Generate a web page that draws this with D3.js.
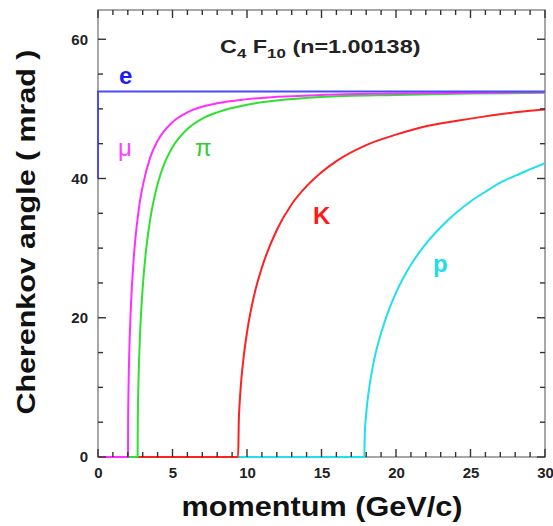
<!DOCTYPE html>
<html>
<head>
<meta charset="utf-8">
<script src="https://cdn.jsdelivr.net/npm/d3@7"></script>
<style>
  body { margin: 0; background: #fff; }
  svg { font-family: 'Liberation Sans', Arial, sans-serif; }
</style>
</head>
<body>
<div id="chart"></div>
<script>
// momentum (GeV/c) and Cherenkov angle (mrad)
const eP = [0, 0, 30]
const eTheta = [40, 52.5, 52.5]

const muP = [0, 2.013, 2.02, 2.05, 2.1, 2.2, 2.4, 2.6, 2.8, 3, 3.5, 4, 5, 6, 8, 10, 15, 20, 30]
const muTheta = [0, 0, 4.5, 10.0, 15.0, 21.2, 28.6, 33.2, 36.5, 38.9, 43.0, 45.4, 48.1, 49.5, 50.8, 51.4, 52.0, 52.2, 52.4]

const piP = [2.013, 2.659, 2.67, 2.7, 2.75, 2.8, 2.9, 3.0, 3.2, 3.5, 4, 4.5, 5, 6, 7, 8, 10, 12, 15, 20, 25, 30]
const piTheta = [0, 0, 4.8, 9.2, 13.4, 16.5, 21.0, 24.3, 29.2, 34.1, 39.2, 42.4, 44.5, 47.1, 48.6, 49.5, 50.6, 51.2, 51.7, 52.0, 52.2, 52.3]

const kP = [2.659, 9.404, 9.45, 9.5, 9.6, 9.8, 10, 10.5, 11, 12, 13, 14, 15, 16, 18, 20, 22, 25, 28, 30]
const kTheta = [0, 0, 5.2, 7.5, 10.6, 14.8, 17.9, 23.4, 27.2, 32.6, 36.3, 38.9, 40.9, 42.5, 44.8, 46.3, 47.5, 48.6, 49.5, 49.9]

const protonP = [9.404, 17.873, 17.9, 18, 18.2, 18.5, 19, 19.5, 20, 21, 22, 23, 24, 25, 26, 27, 28, 29, 30]
const protonTheta = [0, 0, 2.9, 6.2, 9.9, 13.6, 17.8, 21.0, 23.6, 27.6, 30.6, 33.0, 35.0, 36.7, 38.1, 39.4, 40.4, 41.3, 42.2]

const xMajorTicks = [0, 5, 10, 15, 20, 25, 30]
const yMajorTicks = [0, 20, 40, 60]

const margin = { top: 10, right: 8, bottom: 69, left: 98 }
const width = 553 - margin.left - margin.right
const height = 526 - margin.top - margin.bottom

const svg = d3
  .select('#chart')
  .append('svg')
  .attr('width', 553)
  .attr('height', 526)

const g = svg
  .append('g')
  .attr('transform', 'translate(' + margin.left + ',' + margin.top + ')')

const x = d3.scaleLinear().domain([0, 30]).range([0, width])
const y = d3.scaleLinear().domain([0, 64.2]).range([height, 0])

g.append('rect')
  .attr('width', width)
  .attr('height', height)
  .attr('fill', 'none')
  .attr('stroke', '#8a8a8a')
  .attr('stroke-width', 1.5)

/* curves */
const curvePath = d3.line()
  .x(d => x(d[0]))
  .y(d => y(d[1]))
  .curve(d3.curveMonotoneX)

const curves = [
  { p: protonP, t: protonTheta, color: '#1fe0ee' },
  { p: kP, t: kTheta, color: '#ff2020' },
  { p: piP, t: piTheta, color: '#30e030' },
  { p: muP, t: muTheta, color: '#ff30ff' }
]

curves.forEach(c => {
  g.append('path')
    .datum(c.p.map((v, i) => [v, c.t[i]]))
    .attr('d', curvePath)
    .attr('fill', 'none')
    .attr('stroke', c.color)
    .attr('stroke-width', 2)
})

g.append('path')
  .datum(eP.map((v, i) => [v, eTheta[i]]))
  .attr('d', d3.line().x(d => x(d[0])).y(d => y(d[1])))
  .attr('fill', 'none')
  .attr('stroke', '#4a4aff')
  .attr('stroke-width', 2)

/* inward ticks on all four sides, drawn as plain lines from the scales */
const xMinor = d3.range(0, 31, 1)
const yMinor = d3.range(0, 65, 5)
const tickLen = (major, v) => (major.includes(v) ? 8 : 5)

const ticks = g.append('g')
  .attr('stroke', '#333')
  .attr('stroke-width', 1.4)

ticks.selectAll('.xb').data(xMinor).enter().append('line')
  .attr('x1', d => x(d)).attr('x2', d => x(d))
  .attr('y1', height).attr('y2', d => height - tickLen(xMajorTicks, d))
ticks.selectAll('.xt').data(xMinor).enter().append('line')
  .attr('x1', d => x(d)).attr('x2', d => x(d))
  .attr('y1', 0).attr('y2', d => tickLen(xMajorTicks, d))
ticks.selectAll('.yl').data(yMinor).enter().append('line')
  .attr('y1', d => y(d)).attr('y2', d => y(d))
  .attr('x1', 0).attr('x2', d => tickLen(yMajorTicks, d))
ticks.selectAll('.yr').data(yMinor).enter().append('line')
  .attr('y1', d => y(d)).attr('y2', d => y(d))
  .attr('x1', width).attr('x2', d => width - tickLen(yMajorTicks, d))

/* tick labels from the axis generators */
g.append('g')
  .attr('class', 'ax')
  .attr('transform', 'translate(0,' + height + ')')
  .call(d3.axisBottom(x).tickValues(xMajorTicks).tickSize(0).tickPadding(10))
g.append('g')
  .attr('class', 'ax')
  .call(d3.axisLeft(y).tickValues(yMajorTicks).tickSize(0).tickPadding(10))

g.selectAll('.ax .domain').remove()
g.selectAll('.ax .tick text')
  .attr('fill', '#222')
  .style('font-size', '15px')
  .style('font-weight', 'bold')

/* particle labels */
const particleLabels = [
  { text: 'e', x: 119, y: 84, color: '#1a1aff', weight: 'bold' },
  { text: 'μ', x: 118, y: 156, color: '#ff40ff', weight: 'normal' },
  { text: 'π', x: 195, y: 156, color: '#33cc33', weight: 'normal' },
  { text: 'K', x: 313, y: 224, color: '#ff1a1a', weight: 'bold' },
  { text: 'p', x: 433, y: 272, color: '#20dde8', weight: 'bold' }
]

svg.selectAll('.plabel')
  .data(particleLabels)
  .enter()
  .append('text')
  .attr('class', 'plabel')
  .attr('x', d => d.x)
  .attr('y', d => d.y)
  .attr('fill', d => d.color)
  .style('font-size', '24px')
  .style('font-weight', d => d.weight)
  .text(d => d.text)

/* title */
const title = svg.append('text')
  .attr('transform', 'translate(220,53) scale(1.3,1)')
  .attr('fill', '#222')
  .style('font-size', '18px')
  .style('font-weight', 'bold')
title.append('tspan').text('C')
title.append('tspan').attr('dy', 5).style('font-size', '13px').text('4')
title.append('tspan').attr('dy', -5).text(' F')
title.append('tspan').attr('dy', 5).style('font-size', '13px').text('10')
title.append('tspan').attr('dy', -5).text(' (n=1.00138)')

/* axis titles */
svg.append('text')
  .attr('x', 322)
  .attr('y', 516)
  .attr('text-anchor', 'middle')
  .attr('fill', '#111')
  .attr('textLength', 281)
  .attr('lengthAdjust', 'spacingAndGlyphs')
  .style('font-size', '27px')
  .style('font-weight', 'bold')
  .text('momentum (GeV/c)')

svg.append('text')
  .attr('transform', 'translate(35,232) rotate(-90)')
  .attr('text-anchor', 'middle')
  .attr('fill', '#111')
  .attr('textLength', 365)
  .attr('lengthAdjust', 'spacingAndGlyphs')
  .style('font-size', '26px')
  .style('font-weight', 'bold')
  .text('Cherenkov angle ( mrad )')
</script>
</body>
</html>
